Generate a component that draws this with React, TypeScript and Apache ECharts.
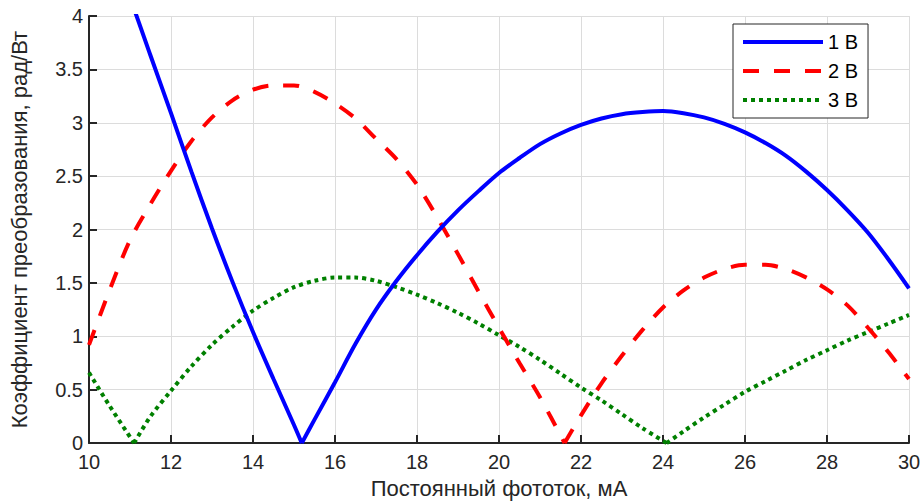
import React, { useEffect, useRef } from "react";
import * as echarts from "echarts";

// Series 1 В (blue, solid) — split at the zero so the V stays sharp
const blueX1 = [10, 10.5, 11, 11.5, 12, 12.5, 13, 13.5, 14, 14.5, 15, 15.19];
const blueY1 = [5.15, 4.66, 4.17, 3.63, 3.09, 2.54, 2.01, 1.51, 1.04, 0.6, 0.17, 0];
const blueX2 = [15.19, 15.5, 16, 16.5, 17, 17.5, 18, 18.5, 19, 19.5, 20, 20.5, 21, 21.5, 22, 22.5, 23, 23.5, 24, 24.5, 25, 25.5, 26, 26.5, 27, 27.5, 28, 28.5, 29, 29.5, 30];
const blueY2 = [0, 0.22, 0.57, 0.93, 1.25, 1.52, 1.76, 1.98, 2.18, 2.36, 2.53, 2.67, 2.8, 2.9, 2.98, 3.04, 3.08, 3.1, 3.11, 3.09, 3.05, 2.99, 2.91, 2.81, 2.69, 2.54, 2.37, 2.18, 1.97, 1.72, 1.45];

// Series 2 В (red, dashed)
const redX1 = [10, 10.5, 11, 11.5, 12, 12.5, 13, 13.5, 14, 14.5, 15, 15.5, 16, 16.5, 17, 17.5, 18, 18.5, 19, 19.5, 20, 20.5, 21, 21.6];
const redY1 = [0.92, 1.43, 1.9, 2.24, 2.55, 2.83, 3.05, 3.21, 3.31, 3.35, 3.35, 3.29, 3.18, 3.04, 2.85, 2.66, 2.42, 2.11, 1.77, 1.42, 1.08, 0.75, 0.43, 0];
const redX2 = [21.6, 22, 22.5, 23, 23.5, 24, 24.5, 25, 25.5, 26, 26.5, 27, 27.5, 28, 28.5, 29, 29.5, 30];
const redY2 = [0, 0.26, 0.56, 0.82, 1.06, 1.27, 1.43, 1.55, 1.63, 1.67, 1.67, 1.63, 1.55, 1.44, 1.29, 1.08, 0.85, 0.6];

// Series 3 В (green, dotted)
const greenX1 = [10, 10.5, 11.1];
const greenY1 = [0.66, 0.35, 0];
const greenX2 = [11.1, 11.5, 12, 12.5, 13, 13.5, 14, 14.5, 15, 15.5, 16, 16.5, 17, 17.5, 18, 18.5, 19, 19.5, 20, 20.5, 21, 21.5, 22, 22.5, 23, 23.5, 24.09];
const greenY2 = [0, 0.25, 0.49, 0.72, 0.92, 1.09, 1.24, 1.36, 1.46, 1.52, 1.55, 1.55, 1.52, 1.46, 1.39, 1.31, 1.22, 1.12, 1.01, 0.9, 0.78, 0.65, 0.52, 0.4, 0.27, 0.14, 0];
const greenX3 = [24.09, 24.5, 25, 25.5, 26, 26.5, 27, 27.5, 28, 28.5, 29, 29.5, 30];
const greenY3 = [0, 0.11, 0.24, 0.36, 0.48, 0.58, 0.68, 0.78, 0.87, 0.96, 1.04, 1.12, 1.2];

const seriesNames = ["1 В", "2 В", "3 В"];
const xTitle = "Постоянный фототок, мА";
const yTitle = "Коэффициент преобразования, рад/Вт";

const FONT = "'Liberation Sans', Arial, Helvetica, sans-serif";
const TXT = "#262626";

const pairs = (xs: number[], ys: number[]) => xs.map((x, i) => [x, ys[i]]);

const styles = [
  { color: "#0000ff", type: "solid" as any },
  { color: "#ff0000", type: [16, 15] as any },
  { color: "#008000", type: [4, 4] as any },
];

export default function App() {
  const ref = useRef<HTMLDivElement>(null);
  useEffect(() => {
    if (!ref.current) return;
    const chart = echarts.init(ref.current, undefined, { renderer: "svg" });
    const mk = (idx: number, xs: number[], ys: number[]) => ({
      type: "line",
      name: seriesNames[idx],
      data: pairs(xs, ys),
      symbol: "none",
      showSymbol: false,
      smooth: 0.3,
      clip: true,
      lineStyle: { color: styles[idx].color, width: 4, type: styles[idx].type, cap: "butt" },
      itemStyle: { color: styles[idx].color },
      z: 3 - idx,
    });
    chart.setOption({
      animation: false,
      backgroundColor: "#ffffff",
      grid: { left: 89, right: 15, top: 16, bottom: 52, containLabel: false },
      legend: {
        orient: "vertical",
        left: 733,
        top: 24,
        itemWidth: 80,
        itemHeight: 14,
        itemGap: 9,
        padding: [8, 10, 8, 8],
        borderColor: "#262626",
        borderWidth: 1,
        backgroundColor: "#ffffff",
        lineStyle: { width: 4 },
        itemStyle: { opacity: 0, borderWidth: 0 },
        textStyle: { fontSize: 20, color: "#000", fontFamily: FONT },
        data: seriesNames,
        selectedMode: false,
      },
      xAxis: {
        type: "value",
        min: 10,
        max: 30,
        interval: 2,
        name: xTitle,
        nameLocation: "middle",
        nameGap: 30,
        nameTextStyle: { fontSize: 22, color: TXT, fontFamily: FONT },
        axisLine: { show: true, onZero: false, lineStyle: { color: TXT, width: 2 } },
        axisTick: { show: true, inside: true, length: 8, lineStyle: { color: TXT, width: 2 } },
        axisLabel: { fontSize: 20, color: TXT, fontFamily: FONT, margin: 9 },
        splitLine: { show: true, lineStyle: { color: "#dcdcdc", width: 1 } },
      },
      yAxis: {
        type: "value",
        min: 0,
        max: 4,
        interval: 0.5,
        name: yTitle,
        nameLocation: "middle",
        nameRotate: 90,
        nameGap: 59,
        nameTextStyle: { fontSize: 22, color: TXT, fontFamily: FONT },
        axisLine: { show: true, onZero: false, lineStyle: { color: TXT, width: 2 } },
        axisTick: { show: true, inside: true, length: 8, lineStyle: { color: TXT, width: 2 } },
        axisLabel: { fontSize: 20, color: TXT, fontFamily: FONT, margin: 6 },
        splitLine: { show: true, lineStyle: { color: "#dcdcdc", width: 1 } },
      },
      series: [
        mk(0, blueX1, blueY1),
        mk(0, blueX2, blueY2),
        mk(1, redX1, redY1),
        mk(1, redX2, redY2),
        mk(2, greenX1, greenY1),
        mk(2, greenX2, greenY2),
        mk(2, greenX3, greenY3),
      ],
    } as any);
    return () => chart.dispose();
  }, []);
  return (
    <div
      ref={ref}
      style={{ position: "fixed", left: 0, top: 0, width: 924, height: 504, background: "#fff" }}
    />
  );
}
